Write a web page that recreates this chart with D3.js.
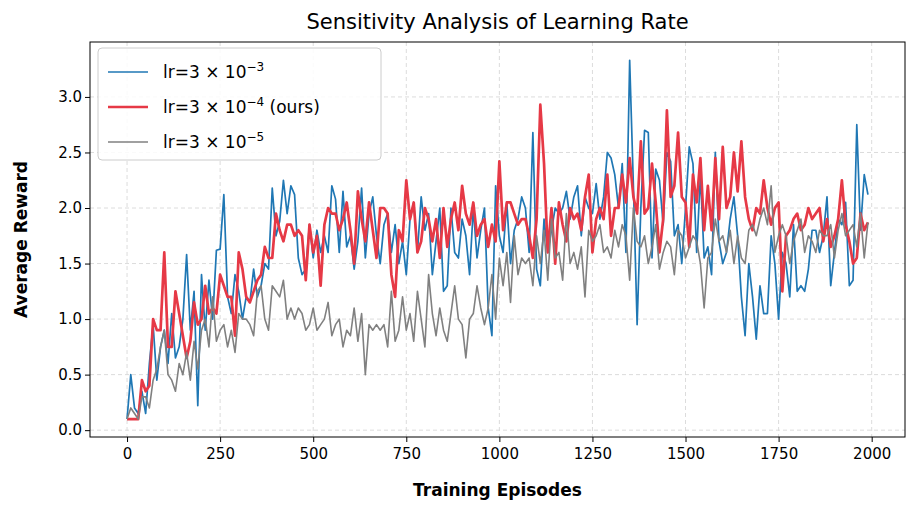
<!DOCTYPE html><html><head><meta charset="utf-8"><script src="https://cdn.jsdelivr.net/npm/d3@7"></script>
<style>body{margin:0;background:#fff}text{font-family:"DejaVu Sans",sans-serif}</style></head><body><svg id="c" width="915" height="509"></svg>
<script>
const xTicks=[0,250,500,750,1000,1250,1500,1750,2000];
const yTicks=[0,0.5,1,1.5,2,2.5,3];
const blue=[0.1,0.5,0.2,0.15,0.35,0.15,0.6,0.95,0.45,0.75,0.9,0.6,1.05,0.65,0.75,1.0,1.58,0.9,1.25,0.22,1.4,0.9,1.35,1.0,1.62,
1.63,2.12,1.2,1.05,1.4,1.25,1.0,1.2,1.15,1.45,1.2,1.3,1.5,1.45,2.18,1.75,1.88,2.25,1.95,2.2,2.12,1.55,1.4,1.45,1.85,
1.55,1.8,1.6,1.75,1.6,2.2,2.08,1.6,2.15,1.65,1.75,1.45,1.7,2.18,1.55,1.95,2.1,1.75,1.5,1.85,1.95,1.6,1.85,1.5,1.7,
1.4,1.9,2.05,1.6,2.1,1.8,1.95,1.4,1.7,2.0,1.25,1.3,2.0,1.6,1.55,1.9,1.75,1.4,2.0,1.55,1.8,2.0,1.1,0.85,2.2,
1.75,1.6,2.05,1.5,1.8,1.9,2.1,2.0,1.6,2.68,1.45,1.3,1.9,1.6,1.8,2.0,1.95,2.0,2.15,1.9,2.1,2.2,1.75,2.1,2.0,
1.95,2.22,1.9,2.1,2.5,2.45,2.3,2.0,2.4,1.6,3.33,2.2,0.95,2.0,2.7,2.68,1.55,2.35,2.25,1.85,2.5,2.42,1.75,1.85,1.5,
2.0,2.55,2.4,1.6,2.3,1.55,1.65,1.4,2.5,1.7,1.5,1.6,1.9,2.1,1.75,1.2,0.85,1.5,1.2,0.82,1.3,1.05,1.05,1.75,1.5,
1.0,1.6,1.5,1.2,1.85,1.25,1.3,1.25,1.45,1.8,1.8,1.6,1.75,2.1,1.3,1.6,1.9,1.85,2.05,1.3,1.35,2.75,1.8,2.3,2.12];
const red=[0.1,0.1,0.1,0.1,0.45,0.35,0.4,1.0,0.9,0.9,1.6,0.75,0.75,1.25,1.05,0.85,0.65,0.8,1.15,0.95,1.0,1.3,1.05,1.1,1.05,
1.4,1.3,1.2,1.2,0.85,1.6,1.45,1.2,1.15,1.25,1.35,1.4,1.65,1.55,1.55,1.95,1.8,1.7,1.85,1.85,1.75,1.8,1.75,1.35,1.85,
1.6,1.75,1.3,1.85,2.0,1.95,1.95,1.8,1.9,2.05,1.8,1.5,2.15,1.9,1.7,2.05,1.8,1.55,2.0,2.0,1.95,1.4,1.2,1.8,1.7,
2.25,1.9,2.05,1.6,1.7,2.0,1.9,1.7,1.9,1.55,2.0,1.65,1.9,2.05,1.8,2.2,1.95,1.85,2.05,1.75,1.85,1.9,1.65,1.85,1.7,
2.42,1.8,2.05,2.05,1.95,1.85,1.9,1.9,1.75,1.55,1.9,2.93,2.4,1.6,2.0,1.5,2.05,1.85,1.7,2.0,1.9,1.95,1.8,2.1,2.3,
1.6,1.9,2.0,1.9,2.3,1.75,2.0,2.0,2.3,2.05,2.45,2.1,1.95,2.6,1.95,2.0,2.4,2.05,1.6,1.9,2.88,2.1,2.2,2.68,2.1,
2.05,1.65,2.3,2.05,2.45,1.8,2.2,1.8,2.45,1.9,2.55,2.0,2.1,2.5,2.15,2.6,2.1,1.9,1.8,2.0,1.95,2.25,2.0,1.85,2.0,
2.05,1.25,1.75,1.8,1.9,1.95,1.8,1.85,2.0,1.9,1.95,2.0,1.7,1.9,1.65,1.75,1.9,2.25,1.85,1.7,1.5,1.55,1.95,1.8,1.87];
const gray=[0.1,0.2,0.15,0.1,0.3,0.3,0.2,0.45,0.55,0.75,0.9,0.5,0.45,0.35,0.6,0.5,0.7,0.45,0.8,0.55,0.9,1.0,0.75,1.2,0.8,
0.9,0.95,0.75,0.9,0.7,1.05,1.0,1.0,0.95,0.85,1.25,1.3,1.0,0.9,1.3,1.25,1.2,1.35,1.0,1.1,1.0,1.1,1.05,0.9,0.95,
1.1,0.9,0.95,1.0,1.15,0.85,0.95,1.0,0.75,0.9,0.85,1.1,0.8,1.05,0.5,0.95,0.9,0.95,0.9,0.95,0.75,1.25,0.8,0.9,1.2,
0.9,1.05,0.8,1.25,1.0,0.75,1.4,1.05,0.85,1.1,0.9,0.8,1.05,1.3,1.0,0.95,0.65,1.0,1.05,1.3,1.1,0.95,1.1,1.4,1.0,
1.55,1.3,1.6,1.15,1.75,1.4,1.55,1.5,1.55,1.3,1.75,1.5,1.8,1.35,1.9,1.55,1.6,1.35,1.95,1.5,1.6,1.45,1.65,1.2,1.8,
1.7,1.75,1.85,1.6,1.65,1.55,1.8,1.65,1.85,1.75,1.35,2.0,1.7,1.65,1.75,1.5,1.65,1.85,1.45,1.6,1.7,1.65,1.4,1.8,1.75,
1.55,1.65,1.75,1.7,1.5,1.1,1.55,1.6,1.9,1.7,1.75,1.6,1.8,1.5,1.75,1.55,1.5,1.8,1.85,1.75,1.9,2.0,1.85,2.2,1.6,
1.75,1.85,1.75,1.5,1.7,1.8,1.9,1.6,1.75,1.7,1.6,1.8,1.75,1.75,1.85,1.55,1.8,1.95,1.75,1.8,1.85,1.65,1.95,1.55,1.87];
const svg=d3.select("#c");
const L=90,R=905,T=42,B=437;
const x=d3.scaleLinear().domain([-99.5,2089.5]).range([L,R]);
const y=d3.scaleLinear().domain([-0.0616,3.4946]).range([B,T]);
const g=svg.append("g");
xTicks.forEach(t=>g.append("line").attr("x1",x(t)).attr("x2",x(t)).attr("y1",T).attr("y2",B).attr("stroke","#dcdcdc").attr("stroke-dasharray","4,3"));
yTicks.forEach(t=>g.append("line").attr("y1",y(t)).attr("y2",y(t)).attr("x1",L).attr("x2",R).attr("stroke","#dcdcdc").attr("stroke-dasharray","4,3"));
const series=[{d:gray,c:"#808080",w:1.6},{d:blue,c:"#1f77b4",w:1.7},{d:red,c:"#e63946",w:2.7}];
const line=d3.line().x((v,i)=>x(i*10)).y(v=>y(v));
[series[1],series[2],series[0]].forEach(s=>svg.append("path").attr("d",line(s.d)).attr("fill","none").attr("stroke",s.c).attr("stroke-width",s.w).attr("stroke-linejoin","round"));
svg.append("rect").attr("x",L).attr("y",T).attr("width",R-L).attr("height",B-T).attr("fill","none").attr("stroke","#000").attr("stroke-width",1);
const xa=svg.append("g").attr("transform",`translate(0,${B})`).call(d3.axisBottom(x).tickValues(xTicks).tickFormat(d3.format("d")).tickSize(5).tickSizeOuter(0));
const ya=svg.append("g").attr("transform",`translate(${L},0)`).call(d3.axisLeft(y).tickValues(yTicks).tickFormat(d3.format(".1f")).tickSize(5).tickSizeOuter(0));
[xa,ya].forEach(a=>{a.attr("font-size",null).attr("font-family",null);a.select(".domain").remove();a.selectAll("text").style("font-size","15px").attr("fill","#000").style("font-family","DejaVu Sans");});
xa.selectAll("text").attr("dy","0.95em");
ya.selectAll("text").attr("x",-8);
svg.append("text").attr("x",(L+R)/2).attr("y",29).attr("text-anchor","middle").style("font-size","21px").text("Sensitivity Analysis of Learning Rate");
svg.append("text").attr("x",(L+R)/2).attr("y",496).attr("text-anchor","middle").style("font-size","17px").attr("font-weight","bold").text("Training Episodes");
svg.append("text").attr("transform",`translate(27,${(T+B)/2}) rotate(-90)`).attr("text-anchor","middle").style("font-size","17px").attr("font-weight","bold").text("Average Reward");
const leg=svg.append("g");
leg.append("rect").attr("x",98).attr("y",48).attr("width",283).attr("height",112).attr("rx",4).attr("fill","#fff").attr("fill-opacity",0.85).attr("stroke","#ccc");
const labels=[["−3",""],["−4"," (ours)"],["−5",""]];
[series[1],series[2],series[0]].forEach((s,i)=>{
 const yy=72+i*35;
 leg.append("line").attr("x1",108).attr("x2",148).attr("y1",yy).attr("y2",yy).attr("stroke",s.c).attr("stroke-width",s.w);
 const t=leg.append("text").attr("x",163).attr("y",yy+6).style("font-size","17px");
 t.append("tspan").text("lr=3 × 10");
 t.append("tspan").attr("dy",-7).style("font-size","12px").text(labels[i][0]);
 t.append("tspan").attr("dy",7).text(labels[i][1]);
});
</script></body></html>
